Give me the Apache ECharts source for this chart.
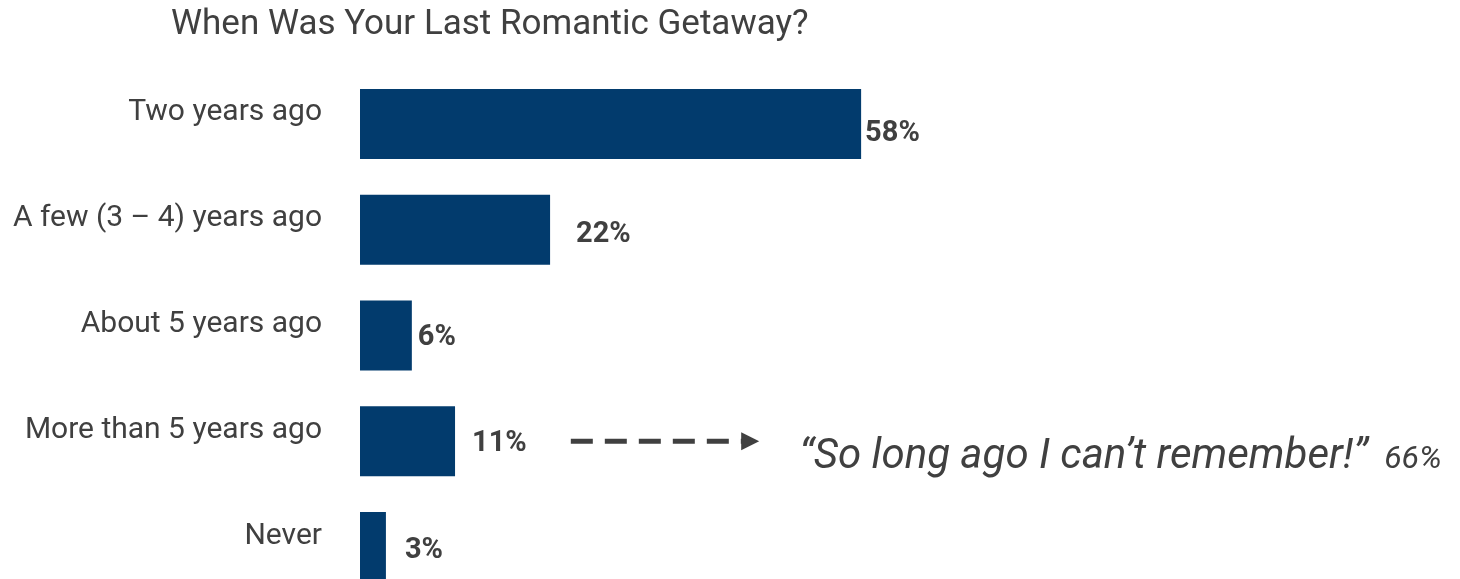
<!DOCTYPE html>
<html>
<head>
<meta charset="utf-8">
<style>
  html, body { margin: 0; padding: 0; background: #ffffff; }
  #chart { width: 1460px; height: 579px; }
</style>
<script src="https://cdn.jsdelivr.net/npm/echarts@6/dist/echarts.min.js"></script>
</head>
<body>
<div id="chart"></div>
<script>
// Survey answers, top to bottom
const categories = [
  'Two years ago',
  'A few (3 \u2013 4) years ago',
  'About 5 years ago',
  'More than 5 years ago',
  'Never'
];
// Share of respondents, in percent
const shares = [58, 22, 6, 11, 3];

// Follow-up answer for "More than 5 years ago"
const followUpCategory = 'More than 5 years ago';
const followUpText = '\u201cSo long ago I can\u2019t remember!\u201d';
const followUpShare = 66;

// Per-bar label nudges [dx, dy] in pixels (styling only)
const labelNudges = [[0, 10], [22, 5], [2, 2], [13, 2], [15, 4]];

const TEXT = '#404040';
const BAR = '#023b6d';
const FONT = 'Roboto, "Liberation Sans", sans-serif';

const chart = echarts.init(document.getElementById('chart'));

chart.setOption({
  animation: false,
  backgroundColor: '#ffffff',
  title: {
    text: 'When Was Your Last Romantic Getaway?',
    left: 166,
    top: 3,
    textStyle: { color: TEXT, fontFamily: FONT, fontSize: 35, fontWeight: 'normal' }
  },
  // the last band runs past the bottom edge of the page
  grid: {
    left: 360, top: 71, width: 864, height: 529,
    containLabel: false,
    outerBoundsMode: 'none'
  },
  xAxis: {
    type: 'value',
    min: 0,
    max: 100,
    show: false
  },
  yAxis: {
    type: 'category',
    inverse: true,
    data: categories,
    axisLine: { show: false },
    axisTick: { show: false },
    splitLine: { show: false },
    axisLabel: {
      color: TEXT,
      fontFamily: FONT,
      fontSize: 30,
      margin: 38,
      verticalAlign: 'bottom',
      lineHeight: 22
    }
  },
  series: [{
    type: 'bar',
    barWidth: 70,
    data: shares.map((v, i) => ({
      value: v,
      label: { offset: labelNudges[i] }
    })),
    itemStyle: { color: BAR },
    label: {
      show: true,
      position: 'right',
      distance: 4,
      formatter: '{c}%',
      color: TEXT,
      fontFamily: FONT,
      fontSize: 29,
      fontWeight: 'bold'
    }
  }]
});

// Dashed arrow and follow-up quote, anchored on the axes
function drawFollowUp() {
  const idx = categories.indexOf(followUpCategory);
  const start = chart.convertToPixel({ gridIndex: 0 }, [shares[idx] + 13.4, idx]);
  const end = chart.convertToPixel({ gridIndex: 0 }, [shares[idx] + 35.2, idx]);
  const y = start[1];
  const x0 = start[0];
  const x1 = end[0];
  chart.setOption({
    graphic: [
      {
        type: 'line',
        shape: { x1: x0, y1: y, x2: x1 - 14, y2: y },
        style: { stroke: TEXT, lineWidth: 5, lineDash: [22, 12] }
      },
      {
        type: 'polygon',
        shape: { points: [[x1 - 18, y - 9], [x1, y], [x1 - 18, y + 9]] },
        style: { fill: TEXT }
      },
      {
        type: 'text',
        x: x1 + 40,
        y: y + 16,
        style: {
          text: followUpText,
          fill: TEXT,
          font: 'italic 42px ' + FONT,
          verticalAlign: 'middle'
        }
      },
      {
        type: 'text',
        x: x1 + 625,
        y: y + 19,
        style: {
          text: followUpShare + '%',
          fill: TEXT,
          font: 'italic 32px ' + FONT,
          verticalAlign: 'middle'
        }
      }
    ]
  });
}
drawFollowUp();
</script>
</body>
</html>
